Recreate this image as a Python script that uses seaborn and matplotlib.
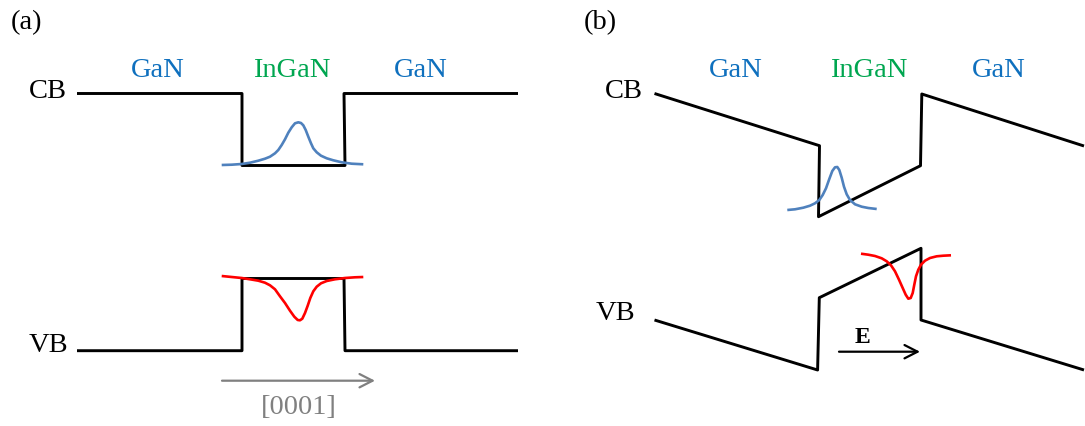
import matplotlib
matplotlib.use("Agg")
import matplotlib.pyplot as plt
import seaborn as sns
import numpy as np
from matplotlib.patches import FancyArrowPatch

# ---------------- data (diagram units: x to the right, energy-like y downward) -------------
# Panel (a): flat-band quantum well
cb_a_x = [77, 242, 242, 345, 344, 518]
cb_a_y = [93.5, 93.5, 165.5, 165.5, 93.5, 93.5]
vb_a_x = [77, 242, 242, 344, 345, 518]
vb_a_y = [350.7, 350.7, 278.5, 278.5, 350.7, 350.7]

# electron wavefunction (a)
el_a_x = [221.7, 231.7, 241.7, 250.0, 258.3, 265.0, 270.0, 275.0, 278.3, 281.7, 285.0, 288.3,
          291.7, 295.0, 298.3, 301.0, 303.3, 305.7, 308.3, 311.0, 313.3, 316.7, 321.0, 326.7,
          333.3, 341.7, 351.7, 363.3]
el_a_y = [165.0, 164.7, 164.0, 162.7, 160.7, 158.7, 156.7, 153.3, 150.0, 145.0, 139.3, 132.7,
          127.3, 123.3, 122.3, 123.0, 125.3, 130.0, 136.7, 143.3, 148.3, 152.3, 155.7, 158.3,
          160.3, 162.3, 163.7, 164.3]
# hole wavefunction (a)
ho_a_x = [221.7, 231.7, 241.7, 250.0, 258.3, 265.0, 270.0, 275.0, 280.0, 285.0, 290.0, 294.3,
          297.7, 300.0, 302.3, 305.0, 307.7, 310.3, 313.3, 316.7, 321.0, 326.7, 335.0, 345.0,
          355.0, 363.3]
ho_a_y = [276.0, 277.0, 278.0, 279.3, 280.7, 282.7, 285.3, 289.3, 296.3, 303.0, 310.7, 316.7,
          320.0, 320.3, 318.7, 313.0, 305.7, 298.0, 291.3, 286.7, 283.3, 281.0, 279.3, 278.0,
          277.3, 277.0]

# Panel (b): polarization-field tilted quantum well
cb_b_x = [654.5, 819.5, 818.5, 920.5, 921.8, 1084]
cb_b_y = [93.5, 145.7, 216.7, 165.7, 94.0, 146.0]
vb_b_x = [654.5, 817.6, 819.3, 921.0, 921.0, 1084]
vb_b_y = [320.0, 370.0, 297.7, 248.3, 320.0, 370.0]

el_b_x = [787.3, 795.0, 803.3, 810.0, 815.0, 819.3, 822.7, 826.0, 829.3, 832.3, 835.0, 837.3,
          839.3, 841.7, 844.0, 846.7, 850.0, 855.0, 861.7, 868.3, 876.7]
el_b_y = [210.0, 209.3, 207.7, 205.7, 203.3, 200.0, 195.0, 188.3, 179.0, 171.0, 167.3, 167.0,
          170.0, 177.7, 186.7, 194.3, 200.0, 204.3, 206.7, 208.0, 209.0]
ho_b_x = [861.0, 868.3, 875.0, 881.7, 886.7, 891.0, 895.0, 899.0, 902.7, 905.7, 908.3, 910.7,
          912.7, 914.3, 916.0, 918.3, 921.0, 925.0, 930.0, 936.7, 943.3, 951.0]
ho_b_y = [253.7, 254.7, 256.0, 258.3, 261.3, 265.3, 271.3, 279.7, 288.0, 294.7, 298.7, 298.0,
          293.0, 284.7, 276.3, 269.7, 264.7, 260.7, 258.0, 256.3, 255.7, 255.3]

# arrows
growth_arrow_x = [222, 375]
growth_arrow_y = [380.7, 380.7]
field_arrow_x = [839, 920]
field_arrow_y = [351.7, 351.7]

# text labels
panel_labels = ["(a)", "(b)"]
panel_label_x = [26.5, 600]
panel_label_y = [29, 29]
layer_labels = ["GaN", "InGaN", "GaN", "GaN", "InGaN", "GaN"]
layer_label_x = [157.8, 291.3, 420.3, 735.8, 868.5, 998.3]
layer_label_y = [77.3, 77.3, 77.3, 77.3, 77.3, 77.3]
band_labels = ["CB", "VB", "CB", "VB"]
band_label_x = [47.7, 48.3, 624.3, 615.0]
band_label_y = [98.3, 351.5, 98.0, 320.5]
direction_label = "[0001]"
field_label = "E"

# ---------------- style -------------
sns.set_theme(style="white")
plt.rcParams['font.family'] = ['Liberation Serif', 'DejaVu Serif']

BLACK = "#000000"
BLUE_TXT = "#0F70BE"
GREEN_TXT = "#00A650"
BLUE_LINE = "#4F81BD"
RED_LINE = "#FF0000"
GRAY = "#808080"

fig = plt.figure(figsize=(10.85, 4.26), dpi=100)
ax = fig.add_axes([0, 0, 1, 1])
ax.set_xlim(0, 1085)
ax.set_ylim(426, 0)
ax.axis("off")

def draw(x, y, color, lw, z=2):
    sns.lineplot(x=x, y=y, sort=False, estimator=None, color=color,
                 linewidth=lw, ax=ax, legend=False, zorder=z,
                 solid_joinstyle="round", solid_capstyle="butt")

for xs, ys in [(cb_a_x, cb_a_y), (vb_a_x, vb_a_y), (cb_b_x, cb_b_y), (vb_b_x, vb_b_y)]:
    draw(xs, ys, BLACK, 2.1, 2)
draw(el_a_x, el_a_y, BLUE_LINE, 1.9, 3)
draw(el_b_x, el_b_y, BLUE_LINE, 1.9, 3)
draw(ho_a_x, ho_a_y, RED_LINE, 1.9, 3)
draw(ho_b_x, ho_b_y, RED_LINE, 1.9, 3)

for ax_x, ax_y, col in [(growth_arrow_x, growth_arrow_y, GRAY), (field_arrow_x, field_arrow_y, BLACK)]:
    arr = FancyArrowPatch((ax_x[0], ax_y[0]), (ax_x[1], ax_y[1]),
                          arrowstyle="->,head_length=0.47,head_width=0.24",
                          mutation_scale=20, color=col, linewidth=1.6,
                          shrinkA=0, shrinkB=0)
    ax.add_patch(arr)

FS = 20.5
for t, x, y in zip(panel_labels, panel_label_x, panel_label_y):
    ax.text(x, y, t, fontsize=FS, color=BLACK, ha="center", va="baseline")
for t, x, y in zip(layer_labels, layer_label_x, layer_label_y):
    ax.text(x, y, t, fontsize=FS, color=(GREEN_TXT if t == "InGaN" else BLUE_TXT),
            ha="center", va="baseline")
for t, x, y in zip(band_labels, band_label_x, band_label_y):
    ax.text(x, y, t, fontsize=FS, color=BLACK, ha="center", va="baseline")
ax.text(298.5, 414.3, direction_label, fontsize=FS, color=GRAY, ha="center", va="baseline")
ax.text(862, 343, field_label, fontsize=17, fontweight="bold", color=BLACK,
        ha="center", va="baseline")

fig.savefig("out.png", dpi=100)
